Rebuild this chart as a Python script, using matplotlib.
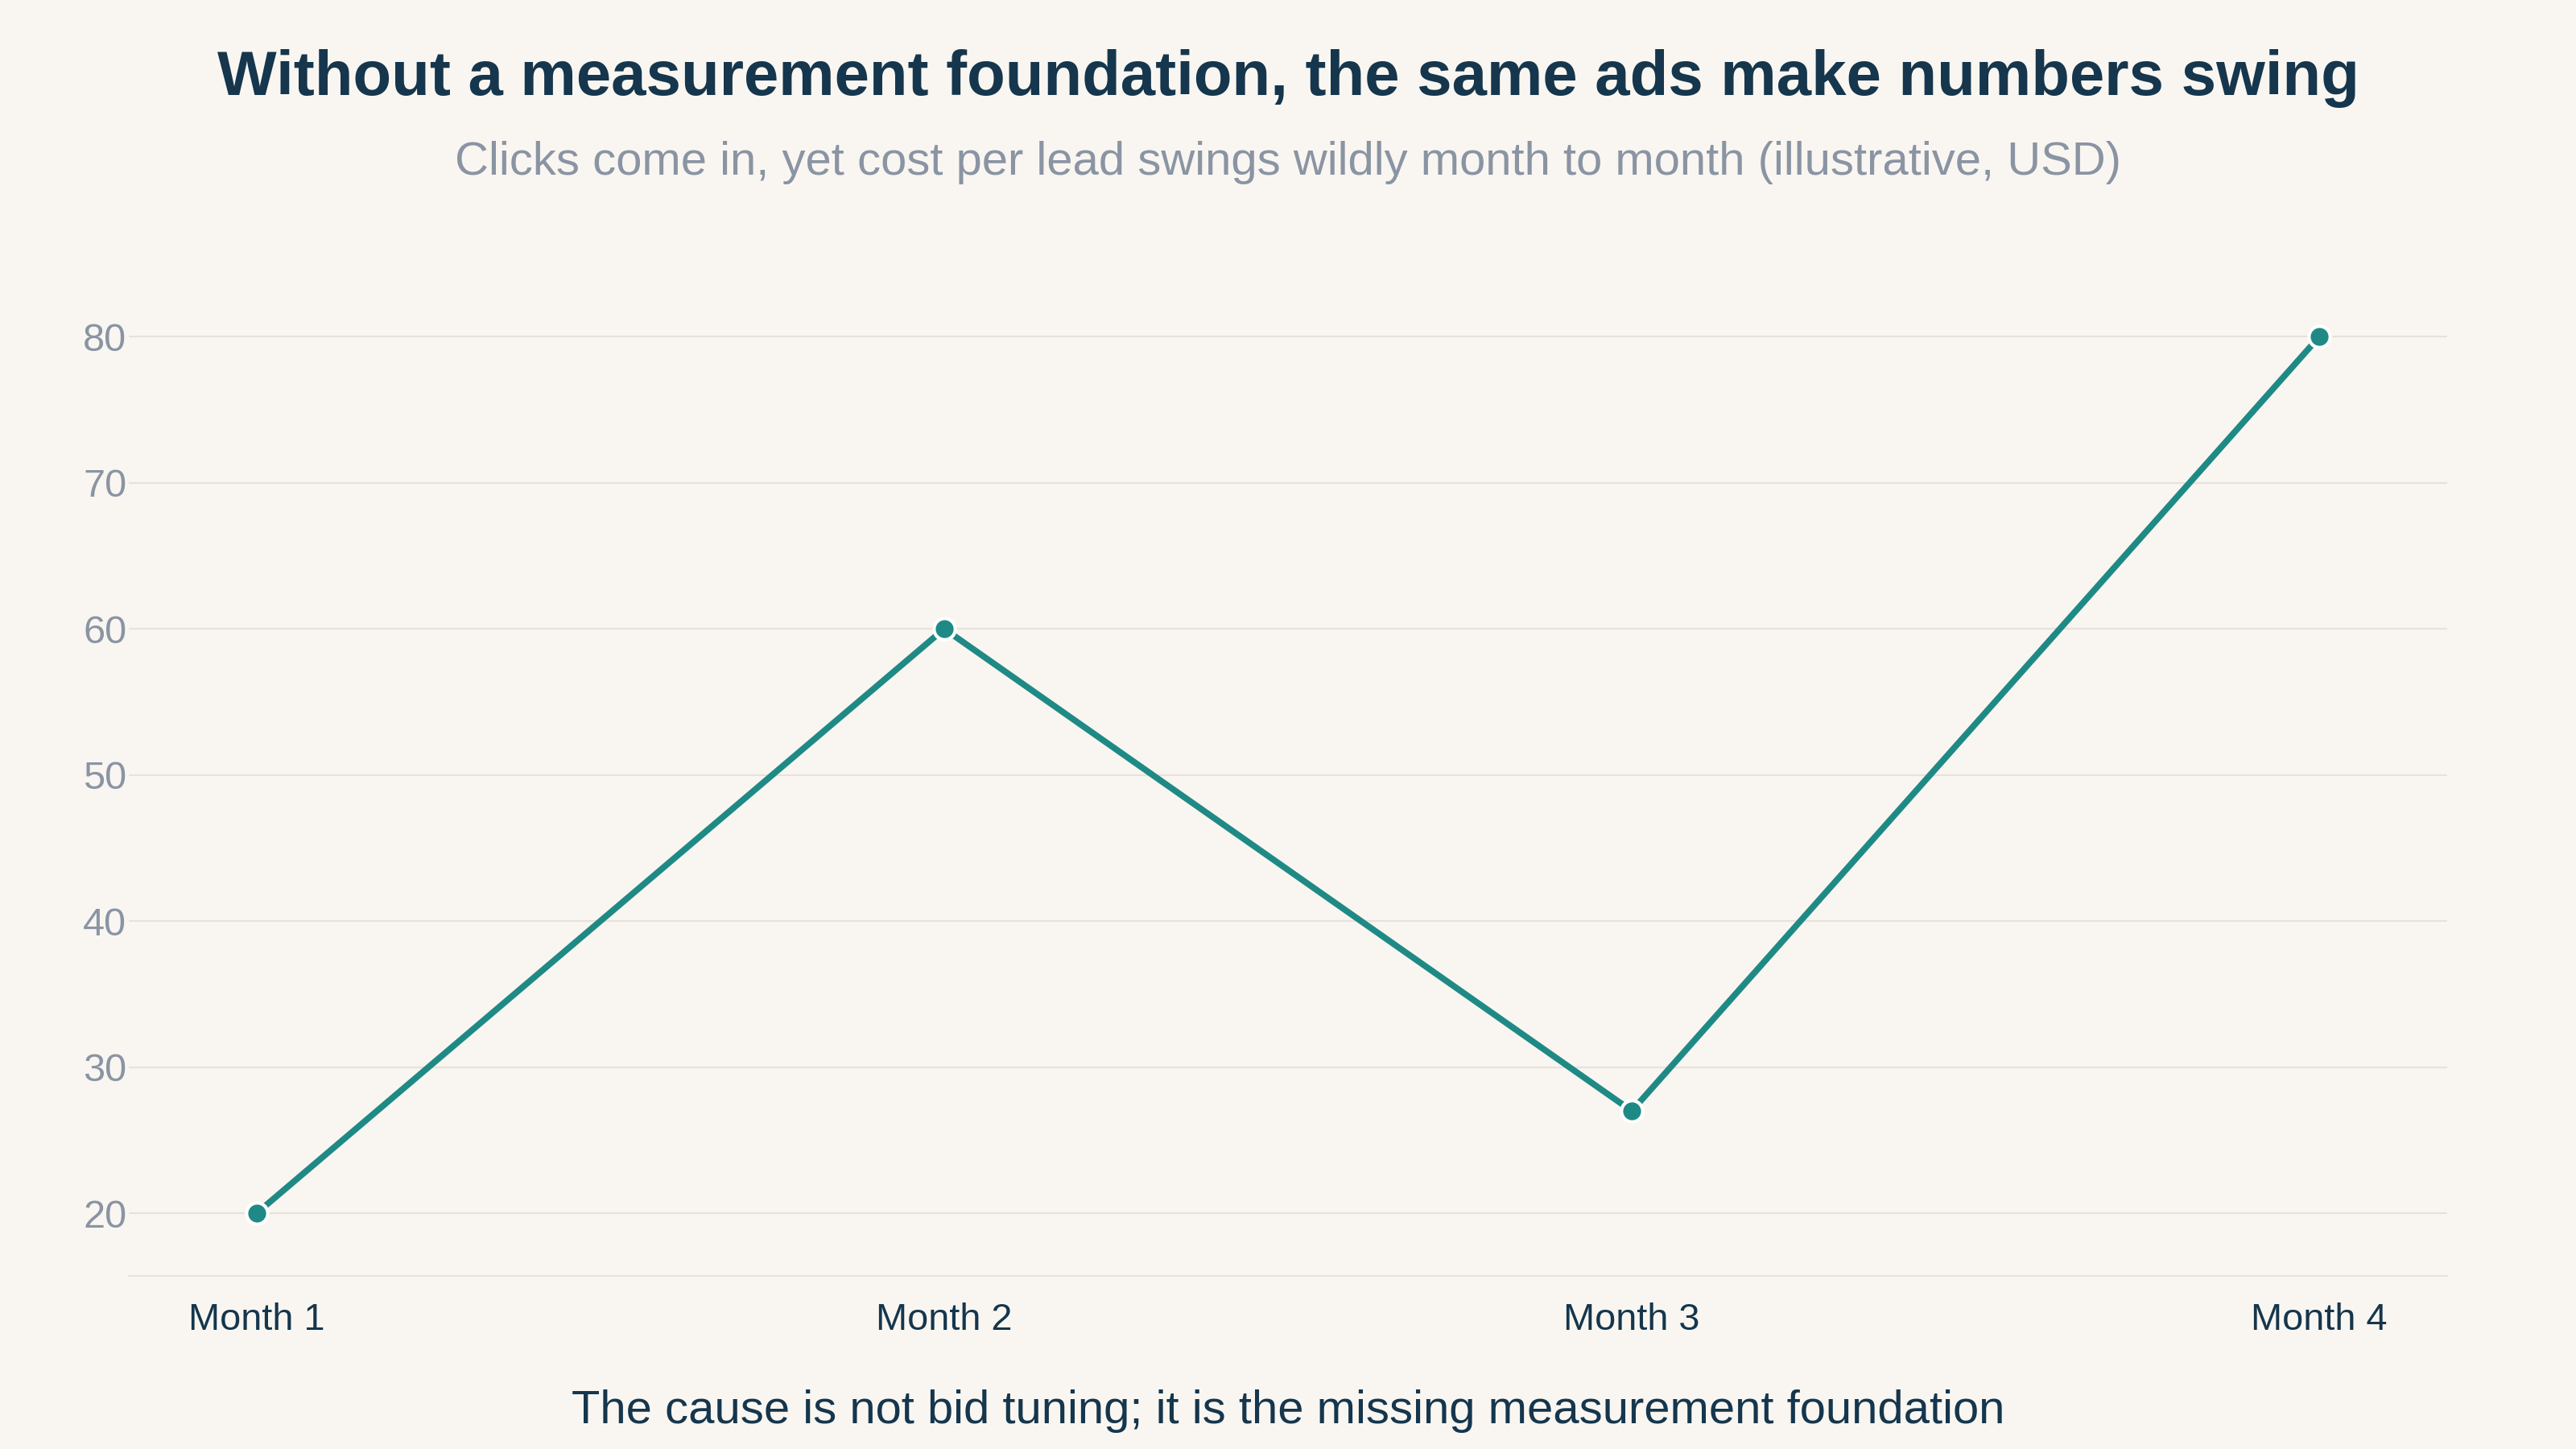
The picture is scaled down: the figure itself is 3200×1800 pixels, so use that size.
import matplotlib.pyplot as plt

# data
months = ['Month 1', 'Month 2', 'Month 3', 'Month 4']
cpl = [20, 60, 27, 80]
yticks = [20, 30, 40, 50, 60, 70, 80]

bg = '#f9f6f1'
navy = '#15364d'
grey = '#8a94a3'
teal = '#1f8a85'
grid = '#e8e2dc'

plt.rcParams['font.family'] = ['Liberation Sans', 'DejaVu Sans']

fig = plt.figure(figsize=(16, 9), dpi=200, facecolor=bg)
ax = fig.add_axes([0.05, 0.1194, 0.90, 0.6916], facecolor=bg)

x = list(range(len(months)))
ax.plot(x, cpl, color=teal, lw=2.8, marker='o', ms=9.5,
        mfc=teal, mec='white', mew=1.5, zorder=3, clip_on=False)

ax.set_xlim(-0.186, 3.186)
ax.set_ylim(15.7, 84.3)
ax.set_xticks(x)
ax.set_xticklabels(months, fontsize=16.9, color=navy)
ax.set_yticks(yticks)
ax.set_yticklabels([str(v) for v in yticks], fontsize=17.5, color=grey)
ax.tick_params(axis='both', length=0)
ax.tick_params(axis='x', pad=12)
ax.tick_params(axis='y', pad=1)

ax.grid(axis='y', color=grid, lw=0.8)
ax.set_axisbelow(True)
for s in ['top', 'right', 'left']:
    ax.spines[s].set_visible(False)
ax.spines['bottom'].set_color(grid)
ax.spines['bottom'].set_linewidth(0.8)

fig.text(0.5, 1 - 98/1800, 'Without a measurement foundation, the same ads make numbers swing',
         ha='center', va='center', fontsize=28.1, fontweight='bold', color=navy)
fig.text(0.5, 1 - 202/1800, 'Clicks come in, yet cost per lead swings wildly month to month (illustrative, USD)',
         ha='center', va='center', fontsize=20.9, color=grey)
fig.text(0.5, 1 - 1753/1800, 'The cause is not bid tuning; it is the missing measurement foundation',
         ha='center', va='center', fontsize=20.9, color=navy)

fig.savefig('out.png', dpi=200, facecolor=bg)
